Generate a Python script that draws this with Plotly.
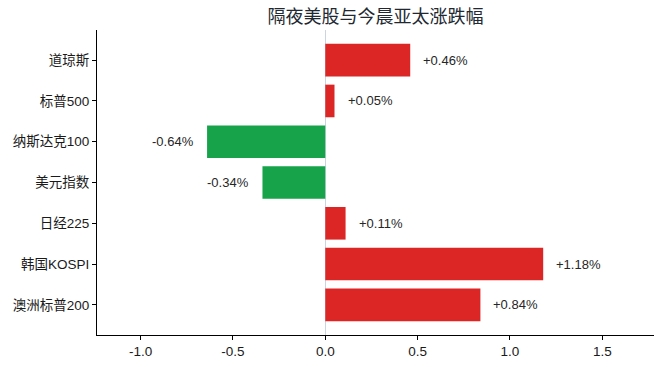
import plotly.graph_objects as go

categories = ["道琼斯", "标普500", "纳斯达克100", "美元指数", "日经225", "韩国KOSPI", "澳洲标普200"]
changes = [0.46, 0.05, -0.64, -0.34, 0.11, 1.18, 0.84]
x_ticks = [-1.0, -0.5, 0.0, 0.5, 1.0, 1.5]
x_tick_labels = ["-1.0", "-0.5", "0.0", "0.5", "1.0", "1.5"]
title_text = "隔夜美股与今晨亚太涨跌幅"

RED = "#dc2626"
GREEN = "#16a34a"
colors = [RED if v >= 0 else GREEN for v in changes]
FONT = "Liberation Sans, Arial, Noto Sans CJK SC, sans-serif"

fig = go.Figure()
fig.add_trace(go.Bar(
    x=changes, y=categories, orientation="h",
    marker=dict(color=colors, line=dict(width=0)),
    width=0.8, hoverinfo="skip",
))

for c, v in zip(categories, changes):
    label = f"{v:+.2f}%"
    fig.add_annotation(
        x=v + (0.06 if v >= 0 else -0.06), y=c, text=label,
        xanchor="left" if v >= 0 else "right", yanchor="middle",
        showarrow=False, font=dict(size=13, color="#262626", family=FONT),
    )

fig.update_layout(
    width=662, height=367,
    margin=dict(l=97, r=8, t=30, b=32),
    paper_bgcolor="white", plot_bgcolor="white",
    showlegend=False,
    font=dict(family=FONT, size=13, color="#1a1a1a"),
    title=dict(text=title_text, x=(97 + 654) / 2 / 662, xanchor="center",
               y=1 - 16.5 / 367, yanchor="middle",
               font=dict(size=18, color="#222831", family=FONT)),
    xaxis=dict(
        range=[-1.236, 1.78], tickvals=x_ticks, ticktext=x_tick_labels,
        showgrid=False, zeroline=True, zerolinecolor="#cbd5e1", zerolinewidth=1,
        showline=True, linecolor="black", linewidth=1.2,
        ticks="outside", ticklen=4, tickcolor="black",
        tickfont=dict(size=13.5, color="#1a1a1a"),
    ),
    yaxis=dict(
        type="category", categoryorder="array", categoryarray=categories,
        range=[6.74, -0.74],
        showgrid=False, zeroline=False,
        showline=True, linecolor="black", linewidth=1.2,
        ticks="outside", ticklen=4, tickcolor="black",
        tickfont=dict(size=13.5, color="#1a1a1a"),
    ),
)

fig.write_html("out.html")
